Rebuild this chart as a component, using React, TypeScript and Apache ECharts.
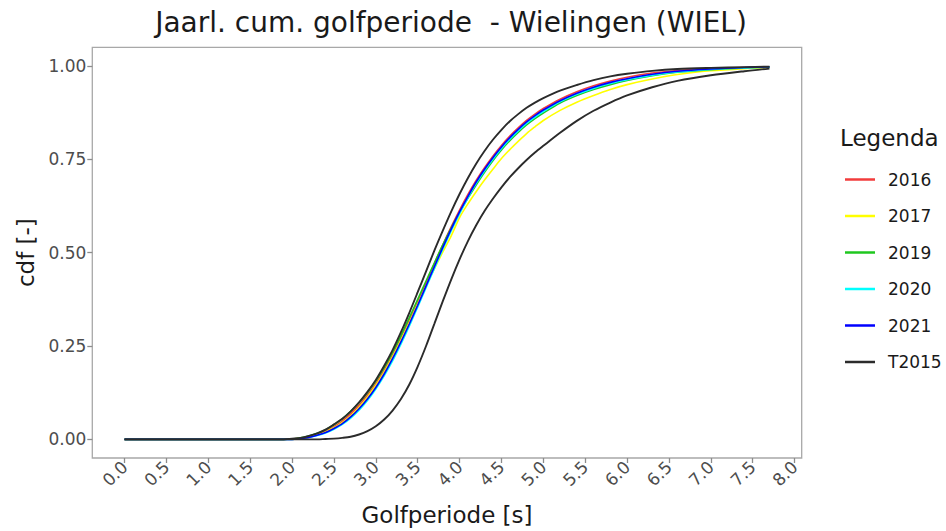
import React, { useEffect, useRef } from "react";
import * as echarts from "echarts";

const TITLE = "Jaarl. cum. golfperiode  - Wielingen (WIEL)";
const X_NAME = "Golfperiode [s]";
const Y_NAME = "cdf [-]";
const LEGEND_TITLE = "Legenda";

const X_TICKS = [0, 0.5, 1, 1.5, 2, 2.5, 3, 3.5, 4, 4.5, 5, 5.5, 6, 6.5, 7, 7.5, 8];
const Y_TICKS = [0, 0.25, 0.5, 0.75, 1];

// wave period (s)
const X = [
  0, 1.9, 2.0, 2.1, 2.2, 2.3, 2.4, 2.5, 2.6, 2.7, 2.8, 2.9, 3.0, 3.1, 3.2, 3.3, 3.4, 3.5, 3.6, 3.7,
  3.8, 3.9, 4.0, 4.1, 4.2, 4.3, 4.4, 4.5, 4.6, 4.7, 4.8, 4.9, 5.0, 5.2, 5.4, 5.6, 5.8, 6.0, 6.3,
  6.6, 7.0, 7.4, 7.7,
];

const Y2016 = [
  0, 0, 0.001, 0.003, 0.007, 0.013, 0.022, 0.034, 0.049, 0.068, 0.091, 0.118, 0.149, 0.185, 0.226,
  0.271, 0.319, 0.369, 0.42, 0.471, 0.521, 0.569, 0.614, 0.656, 0.694, 0.728, 0.759, 0.787, 0.812,
  0.834, 0.854, 0.871, 0.886, 0.911, 0.931, 0.947, 0.96, 0.97, 0.981, 0.988, 0.993, 0.996, 0.997,
];
const Y2017 = [
  0, 0, 0.001, 0.003, 0.006, 0.012, 0.02, 0.031, 0.045, 0.063, 0.086, 0.113, 0.144, 0.18, 0.221,
  0.266, 0.313, 0.362, 0.41, 0.457, 0.502, 0.545, 0.594, 0.631, 0.664, 0.695, 0.724, 0.752, 0.776,
  0.798, 0.819, 0.837, 0.854, 0.881, 0.903, 0.921, 0.937, 0.95, 0.965, 0.977, 0.987, 0.993, 0.996,
];
const Y2019 = [
  0, 0, 0.001, 0.004, 0.009, 0.016, 0.026, 0.039, 0.055, 0.075, 0.098, 0.125, 0.156, 0.192, 0.233,
  0.278, 0.326, 0.375, 0.424, 0.473, 0.521, 0.566, 0.608, 0.646, 0.682, 0.716, 0.747, 0.775, 0.8,
  0.822, 0.842, 0.859, 0.874, 0.901, 0.921, 0.937, 0.95, 0.961, 0.974, 0.983, 0.99, 0.995, 0.997,
];
const Y2020 = [
  0, 0, 0, 0.002, 0.005, 0.01, 0.017, 0.027, 0.04, 0.057, 0.078, 0.104, 0.135, 0.17, 0.21, 0.255,
  0.303, 0.354, 0.406, 0.458, 0.509, 0.558, 0.604, 0.647, 0.686, 0.72, 0.751, 0.779, 0.804, 0.826,
  0.846, 0.863, 0.878, 0.904, 0.924, 0.94, 0.953, 0.963, 0.975, 0.984, 0.991, 0.995, 0.997,
];
const Y2021 = [
  0, 0, 0, 0.002, 0.005, 0.011, 0.018, 0.029, 0.042, 0.06, 0.082, 0.108, 0.139, 0.175, 0.216,
  0.261, 0.309, 0.359, 0.411, 0.463, 0.514, 0.563, 0.609, 0.651, 0.69, 0.724, 0.755, 0.783, 0.808,
  0.83, 0.85, 0.867, 0.882, 0.907, 0.927, 0.943, 0.956, 0.966, 0.978, 0.986, 0.992, 0.996, 0.998,
];
const YT2015_A = [
  0, 0, 0.002, 0.004, 0.009, 0.016, 0.026, 0.04, 0.055, 0.075, 0.099, 0.127, 0.159, 0.197, 0.239,
  0.287, 0.339, 0.394, 0.45, 0.506, 0.559, 0.61, 0.657, 0.7, 0.739, 0.773, 0.803, 0.829, 0.852,
  0.871, 0.888, 0.902, 0.914, 0.934, 0.949, 0.962, 0.972, 0.979, 0.987, 0.992, 0.995, 0.997, 0.998,
];
const YT2015_B = [
  0, 0, 0, 0, 0, 0, 0.001, 0.002, 0.004, 0.007, 0.013, 0.022, 0.035, 0.053, 0.077, 0.108, 0.147,
  0.195, 0.25, 0.31, 0.37, 0.428, 0.482, 0.531, 0.574, 0.612, 0.645, 0.675, 0.702, 0.726, 0.748,
  0.768, 0.786, 0.821, 0.853, 0.88, 0.902, 0.921, 0.943, 0.96, 0.975, 0.986, 0.993,
];

const SERIES = [
  { name: "2016", values: Y2016, color: "#f23c3c", width: 1.6 },
  { name: "2017", values: Y2017, color: "#ffff00", width: 1.6 },
  { name: "2019", values: Y2019, color: "#1fc71f", width: 1.6 },
  { name: "2020", values: Y2020, color: "#00ffff", width: 1.6 },
  { name: "2021", values: Y2021, color: "#0000ff", width: 1.6 },
  { name: "T2015", values: YT2015_A, color: "#2b2b2b", width: 1.9 },
  { name: "T2015", values: YT2015_B, color: "#2b2b2b", width: 1.9 },
];

const LEGEND_NAMES = ["2016", "2017", "2019", "2020", "2021", "T2015"];

const FONT = "DejaVu Sans";

export default function App() {
  const ref = useRef<HTMLDivElement>(null);

  useEffect(() => {
    if (!ref.current) return;
    const chart = echarts.init(ref.current, undefined, { renderer: "svg" });
    const option: any = {
      animation: false,
      backgroundColor: "#ffffff",
      textStyle: { fontFamily: FONT },
      title: [
        {
          text: TITLE,
          left: 446,
          top: 3,
          textAlign: "center",
          textStyle: { fontFamily: FONT, fontSize: 28, fontWeight: "normal", color: "#1a1a1a" },
        },
        {
          text: LEGEND_TITLE,
          left: 835,
          top: 121,
          textStyle: { fontFamily: FONT, fontSize: 23, fontWeight: "normal", color: "#1a1a1a" },
        },
      ],
      grid: {
        left: 92.3,
        top: 47.3,
        right: 144.3,
        bottom: 66,
        show: true,
        borderColor: "#a8a8a8",
        borderWidth: 1.3,
        containLabel: false,
      },
      xAxis: {
        type: "value",
        min: -0.385,
        max: 8.085,
        name: X_NAME,
        nameLocation: "middle",
        nameGap: 45,
        nameTextStyle: { fontFamily: FONT, fontSize: 23, color: "#1a1a1a" },
        axisLine: { show: false, onZero: false },
        splitLine: { show: false },
        axisTick: {
          show: true,
          length: 5,
          customValues: X_TICKS,
          lineStyle: { color: "#8c8c8c", width: 1.3 },
        },
        axisLabel: {
          customValues: X_TICKS,
          rotate: 45,
          margin: 6,
          fontFamily: FONT,
          fontSize: 17,
          color: "#4d4d4d",
          formatter: (v: number) => v.toFixed(1),
        },
      },
      yAxis: {
        type: "value",
        min: -0.05,
        max: 1.05,
        name: Y_NAME,
        nameLocation: "middle",
        nameGap: 50,
        nameTextStyle: { fontFamily: FONT, fontSize: 23, color: "#1a1a1a" },
        axisLine: { show: false, onZero: false },
        splitLine: { show: false },
        axisTick: {
          show: true,
          length: 5,
          customValues: Y_TICKS,
          lineStyle: { color: "#8c8c8c", width: 1.3 },
        },
        axisLabel: {
          customValues: Y_TICKS,
          margin: 6,
          fontFamily: FONT,
          fontSize: 17,
          color: "#4d4d4d",
          formatter: (v: number) => v.toFixed(2),
        },
      },
      legend: {
        orient: "vertical",
        left: 840,
        top: 166,
        itemWidth: 30,
        itemHeight: 2.5,
        itemGap: 19.5,
        icon: "rect",
        data: LEGEND_NAMES,
        textStyle: { fontFamily: FONT, fontSize: 17, color: "#1a1a1a", padding: [0, 0, 0, 8], lineHeight: 17 },
      },
      series: SERIES.map((s) => ({
        name: s.name,
        type: "line",
        showSymbol: false,
        symbol: "none",
        smooth: 0.3,
        data: X.map((x, i) => [x, s.values[i]]),
        lineStyle: { color: s.color, width: s.width },
        itemStyle: { color: s.color },
        emphasis: { disabled: true },
      })),
    };
    chart.setOption(option);
    return () => chart.dispose();
  }, []);

  return (
    <div
      ref={ref}
      style={{ position: "fixed", left: 0, top: 0, width: 946, height: 531, background: "#fff" }}
    />
  );
}
